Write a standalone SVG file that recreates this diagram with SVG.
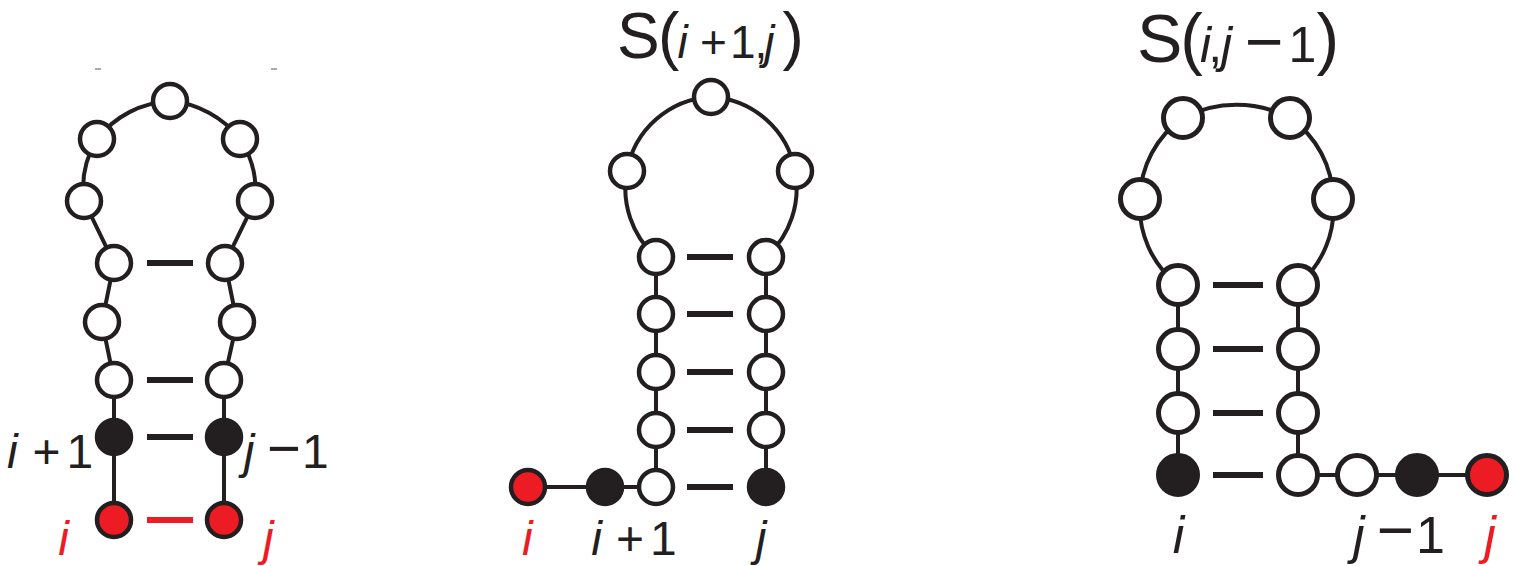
<svg xmlns="http://www.w3.org/2000/svg" width="1516" height="566" viewBox="0 0 1516 566">
<style>
.n{fill:#fff;stroke:#231f20;stroke-width:4.5}
.n3{fill:#fff;stroke:#231f20;stroke-width:5}
.b{fill:#231f20}
.r{fill:#ed1c24}
.ln{fill:none;stroke:#231f20;stroke-width:4}
.bd{stroke:#231f20;stroke-width:6}
.bdr{stroke:#ed1c24;stroke-width:6}
text{font-family:"Liberation Sans",Arial,sans-serif;fill:#231f20}
.red{fill:#ed1c24}
.it{font-style:italic}
</style>
<rect width="1516" height="566" fill="#fff"/>
<g id="connectors">
  <line x1="95" y1="69" x2="101" y2="69" stroke="#aaa" stroke-width="2"/>
  <line x1="271" y1="69" x2="277" y2="69" stroke="#aaa" stroke-width="2"/>
  <path class="ln" d="M114,263 L84,201 A95 95 0 0 1 97,139 A100 100 0 0 1 170,101 A100 100 0 0 1 240,139 A95 95 0 0 1 255,201 L225,263"/>
  <path class="ln" d="M114,263 L102,322 L114,380 L114,520"/>
  <path class="ln" d="M225,263 L237,322 L224,380 L224,520"/>
  <line class="bd" x1="147" y1="263" x2="193" y2="263"/>
  <line class="bd" x1="147" y1="380" x2="193" y2="380"/>
  <line class="bd" x1="147" y1="437" x2="193" y2="437"/>
  <line class="bdr" x1="147" y1="520" x2="193" y2="520"/>
  <path class="ln" d="M656,257 A92 92 0 0 1 627,171 A90 90 0 0 1 711,97 A90 90 0 0 1 795,171 A92 92 0 0 1 766,257"/>
  <path class="ln" d="M528,487 L656,487 L656,257"/>
  <path class="ln" d="M766,257 L766,487"/>
  <line class="bd" x1="687" y1="257" x2="733" y2="257"/>
  <line class="bd" x1="687" y1="314" x2="733" y2="314"/>
  <line class="bd" x1="687" y1="372" x2="733" y2="372"/>
  <line class="bd" x1="687" y1="430" x2="733" y2="430"/>
  <line class="bd" x1="687" y1="487" x2="733" y2="487"/>
  <path class="ln" d="M1178,285 A100 100 0 0 1 1140,199 A100 100 0 0 1 1183,118 A115 115 0 0 1 1290,118 A100 100 0 0 1 1333,199 A100 100 0 0 1 1298,285"/>
  <path class="ln" d="M1178,285 L1178,475"/>
  <path class="ln" d="M1298,285 L1298,475 L1487,475"/>
  <line class="bd" x1="1213" y1="285" x2="1263" y2="285"/>
  <line class="bd" x1="1213" y1="349" x2="1263" y2="349"/>
  <line class="bd" x1="1213" y1="413" x2="1263" y2="413"/>
  <line class="bd" x1="1213" y1="475" x2="1263" y2="475"/>
</g>
<!-- Panel 1 -->
<g id="p1-i"><circle class="n r" cx="114" cy="520" r="17"/></g>
<g id="p1-i1"><circle class="n b" cx="114" cy="437" r="17"/></g>
<g id="p1-n3"><circle class="n" cx="114" cy="380" r="17"/></g>
<g id="p1-n4"><circle class="n" cx="102" cy="322" r="17"/></g>
<g id="p1-n5"><circle class="n" cx="114" cy="263" r="17"/></g>
<g id="p1-n6"><circle class="n" cx="84" cy="201" r="17"/></g>
<g id="p1-n7"><circle class="n" cx="97" cy="139" r="17"/></g>
<g id="p1-n8"><circle class="n" cx="170" cy="101" r="17"/></g>
<g id="p1-n9"><circle class="n" cx="240" cy="139" r="17"/></g>
<g id="p1-n10"><circle class="n" cx="255" cy="201" r="17"/></g>
<g id="p1-n11"><circle class="n" cx="225" cy="263" r="17"/></g>
<g id="p1-n12"><circle class="n" cx="237" cy="322" r="17"/></g>
<g id="p1-n13"><circle class="n" cx="224" cy="380" r="17"/></g>
<g id="p1-j1"><circle class="n b" cx="224" cy="437" r="17"/></g>
<g id="p1-j"><circle class="n r" cx="224" cy="520" r="17"/></g>
<g id="p1-labels">
  <text x="7" y="468" font-size="48"><tspan class="it">i</tspan> <tspan dx="1.5">+</tspan> <tspan dx="-7.4">1</tspan></text>
  <text x="243.7" y="468" font-size="48"><tspan class="it">j</tspan> <tspan dx="-0.7" font-size="58">−</tspan><tspan dx="1">1</tspan></text>
  <text x="58.3" y="555" font-size="48" class="red it">i</text>
  <text x="263" y="555" font-size="48" class="red it">j</text>
</g>
<!-- Panel 2 -->
<g id="p2-title">
  <text x="617" y="58" font-size="64">S<tspan dx="-1.7">(</tspan><tspan dx="-1.7" font-size="46" class="it">i</tspan><tspan dx="12.2" font-size="46">+</tspan><tspan dx="3" font-size="46">1</tspan><tspan dx="-1" font-size="46">,</tspan><tspan dx="-3" font-size="46" class="it">j</tspan><tspan dx="8">)</tspan></text>
</g>
<g id="p2-i"><circle class="n r" cx="528" cy="487" r="17"/></g>
<g id="p2-i1"><circle class="n b" cx="605" cy="487" r="17"/></g>
<g id="p2-n3"><circle class="n" cx="656" cy="487" r="17"/></g>
<g id="p2-n4"><circle class="n" cx="656" cy="430" r="17"/></g>
<g id="p2-n5"><circle class="n" cx="656" cy="372" r="17"/></g>
<g id="p2-n6"><circle class="n" cx="656" cy="314" r="17"/></g>
<g id="p2-n7"><circle class="n" cx="656" cy="257" r="17"/></g>
<g id="p2-n8"><circle class="n" cx="627" cy="171" r="17"/></g>
<g id="p2-n9"><circle class="n" cx="711" cy="97" r="17"/></g>
<g id="p2-n10"><circle class="n" cx="795" cy="171" r="17"/></g>
<g id="p2-n11"><circle class="n" cx="766" cy="257" r="17"/></g>
<g id="p2-n12"><circle class="n" cx="766" cy="314" r="17"/></g>
<g id="p2-n13"><circle class="n" cx="766" cy="372" r="17"/></g>
<g id="p2-n14"><circle class="n" cx="766" cy="430" r="17"/></g>
<g id="p2-j"><circle class="n b" cx="766" cy="487" r="17"/></g>
<g id="p2-labels">
  <text x="522" y="555" font-size="48" class="red it">i</text>
  <text x="591.3" y="555" font-size="48"><tspan class="it">i</tspan> <tspan dx="0.7">+</tspan> <tspan dx="-7.3">1</tspan></text>
  <text x="755.7" y="555" font-size="48" class="it">j</text>
</g>
<!-- Panel 3 -->
<g id="p3-title">
  <text x="1137" y="62" font-size="68">S<tspan dx="-2.1">(</tspan><tspan dx="-2.9" font-size="50" class="it">i</tspan><tspan dx="-2.9" font-size="50">,</tspan><tspan dx="-1.1" font-size="50" class="it">j</tspan><tspan dx="12.9" dy="2" font-size="66">−</tspan><tspan dx="5" dy="-2" font-size="50">1</tspan><tspan dx="0">)</tspan></text>
</g>
<g id="p3-i"><circle class="n3 b" cx="1178" cy="475" r="19.5"/></g>
<g id="p3-n2"><circle class="n3" cx="1178" cy="413" r="19.5"/></g>
<g id="p3-n3"><circle class="n3" cx="1178" cy="349" r="19.5"/></g>
<g id="p3-n4"><circle class="n3" cx="1178" cy="285" r="19.5"/></g>
<g id="p3-n5"><circle class="n3" cx="1140" cy="199" r="19.5"/></g>
<g id="p3-n6"><circle class="n3" cx="1183" cy="118" r="19.5"/></g>
<g id="p3-n7"><circle class="n3" cx="1290" cy="118" r="19.5"/></g>
<g id="p3-n8"><circle class="n3" cx="1333" cy="199" r="19.5"/></g>
<g id="p3-n9"><circle class="n3" cx="1298" cy="285" r="19.5"/></g>
<g id="p3-n10"><circle class="n3" cx="1298" cy="349" r="19.5"/></g>
<g id="p3-n11"><circle class="n3" cx="1298" cy="413" r="19.5"/></g>
<g id="p3-n12"><circle class="n3" cx="1298" cy="475" r="19.5"/></g>
<g id="p3-n13"><circle class="n3" cx="1357" cy="475" r="19.5"/></g>
<g id="p3-j1"><circle class="n3 b" cx="1417" cy="475" r="19.5"/></g>
<g id="p3-j"><circle class="n3 r" cx="1487" cy="475" r="19.5"/></g>
<g id="p3-labels">
  <text x="1172.7" y="553" font-size="52" class="it">i</text>
  <text x="1353" y="553" font-size="52"><tspan class="it">j</tspan> <tspan dx="-2.3" dy="-1" font-size="64">−</tspan><tspan dx="2" dy="1">1</tspan></text>
  <text x="1484.3" y="553" font-size="52" class="red it">j</text>
</g>
</svg>
